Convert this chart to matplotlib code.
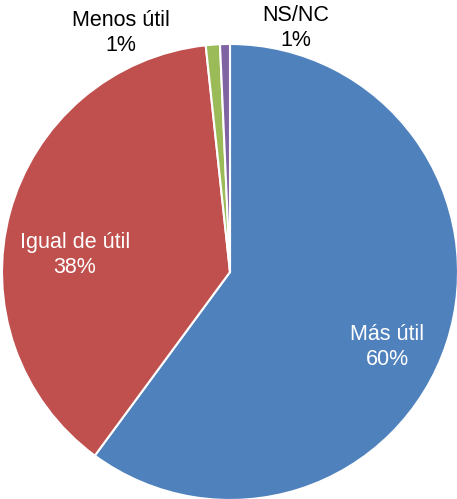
import matplotlib.pyplot as plt

# datos
categorias = ['Más útil', 'Igual de útil', 'Menos útil', 'NS/NC']
valores = [60.1, 38.2, 1.0, 0.7]
etiquetas_pct = ['60%', '38%', '1%', '1%']
colores = ['#4F81BD', '#C0504D', '#9BBB59', '#8064A2']

# posicion de las etiquetas (en pixeles) y color del texto
pos_etiquetas = [(387, 152), (75, 244), (121, 466), (296, 471)]
color_texto = ['white', 'white', 'black', 'black']

plt.rcParams['font.family'] = ['Liberation Sans', 'DejaVu Sans']

fig = plt.figure(figsize=(4.57, 4.99), dpi=100)
ax = fig.add_axes([0, 0, 1, 1])

ax.pie(valores, colors=colores, startangle=90, counterclock=False,
       center=(230, 227), radius=228, frame=True,
       wedgeprops=dict(edgecolor='white', linewidth=1.5))
ax.set_xlim(0, 457)
ax.set_ylim(0, 499)
ax.set_aspect('equal')
ax.axis('off')

for cat, pct, (x, y), c in zip(categorias, etiquetas_pct, pos_etiquetas, color_texto):
    ax.text(x, y, cat + '\n' + pct, ha='center', va='center', color=c,
            fontsize=15.5, linespacing=1.3)

fig.savefig('out.png', dpi=100)
